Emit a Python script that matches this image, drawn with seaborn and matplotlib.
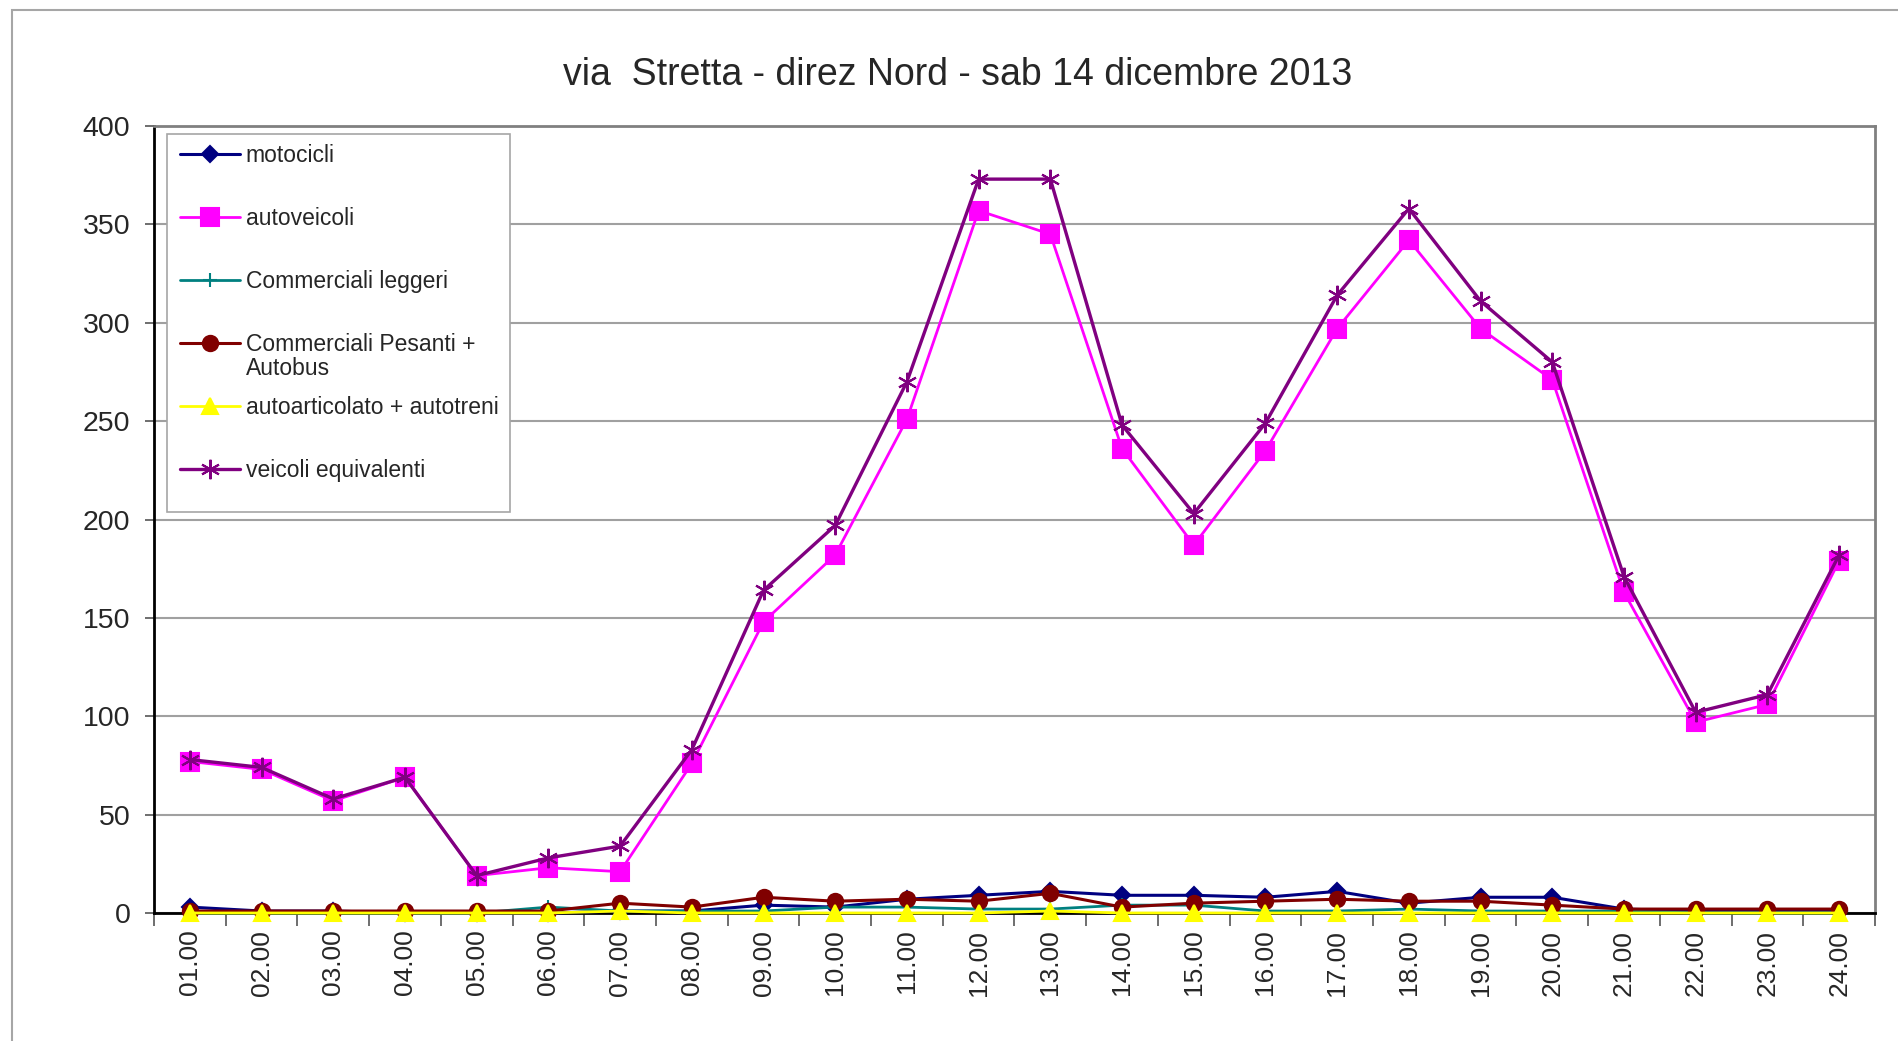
import matplotlib
matplotlib.use("Agg")
import matplotlib.pyplot as plt
from matplotlib.patches import Rectangle
from matplotlib.text import Annotation
import seaborn as sns

# dati (conteggi orari)
ore = ["01.00", "02.00", "03.00", "04.00", "05.00", "06.00", "07.00", "08.00",
       "09.00", "10.00", "11.00", "12.00", "13.00", "14.00", "15.00", "16.00",
       "17.00", "18.00", "19.00", "20.00", "21.00", "22.00", "23.00", "24.00"]

motocicli = [3, 1, 1, 0, 0, 0, 1, 1, 4, 3, 7, 9, 11, 9, 9, 8, 11, 5, 8, 8, 2, 1, 1, 1]
autoveicoli = [77, 73, 57, 69, 19, 23, 21, 76, 148, 182, 251, 357, 345, 236, 187,
               235, 297, 342, 297, 271, 163, 97, 106, 179]
comm_leggeri = [0, 0, 0, 0, 0, 3, 1, 1, 1, 3, 3, 2, 2, 4, 4, 1, 1, 2, 1, 1, 1, 0, 0, 0]
comm_pesanti = [1, 1, 1, 1, 1, 1, 5, 3, 8, 6, 7, 6, 10, 3, 5, 6, 7, 6, 6, 4, 2, 2, 2, 2]
autoarticolati = [0, 0, 0, 0, 0, 0, 1, 0, 0, 0, 0, 0, 1, 0, 0, 0, 0, 0, 0, 0, 0, 0, 0, 0]
veicoli_equiv = [78, 74, 58, 69, 19, 28, 34, 83, 164, 197, 270, 373, 373, 248, 203,
                 249, 314, 358, 311, 280, 171, 102, 111, 182]

sns.set_style("white")
plt.rcParams['font.family'] = ['Liberation Sans', 'DejaVu Sans']

W, H = 1899, 1041
fig = plt.figure(figsize=(W / 100, H / 100), dpi=100)
ax = fig.add_axes([154 / W, 1 - 913 / H, (1875 - 154) / W, (913 - 126) / H])

# cornice esterna del grafico
fig.add_artist(Rectangle((12 / W, -0.1), 1.2, 1 - 10 / H + 0.1, transform=fig.transFigure,
                         fill=False, edgecolor='#a6a6a6', lw=1.5))

x = list(range(len(ore)))
serie = [
    ("motocicli", motocicli, "#000080", "D", 8, 2.2),
    ("autoveicoli", autoveicoli, "#ff00ff", "s", 13, 2.0),
    ("Commerciali leggeri", comm_leggeri, "#008080", "+", 10, 2.0),
    ("Commerciali Pesanti +", comm_pesanti, "#800000", "o", 11, 2.2),
    ("autoarticolato + autotreni", autoarticolati, "#ffff00", "^", 12, 2.0),
    ("veicoli equivalenti", veicoli_equiv, "#800080", (6, 2, 0), 14, 2.4),
]
for nome, vals, col, mk, ms, lw in serie:
    sns.lineplot(x=x, y=vals, ax=ax, color=col, marker=mk, markersize=ms, lw=lw,
                 markeredgecolor=col, markerfacecolor=col, markeredgewidth=1.5,
                 label=nome, clip_on=False, zorder=3)

ax.set_xlim(-0.5, len(ore) - 0.5)
ax.set_ylim(0, 400)
ax.set_yticks(range(0, 401, 50))
ax.set_xticks(x)
ax.set_xticklabels(ore, rotation=90)
ax.set_xticks([i - 0.5 for i in range(len(ore) + 1)], minor=True)
ax.tick_params(axis='x', which='major', length=0, pad=12, labelsize=19)
ax.tick_params(axis='x', which='minor', length=9, width=1.2, color='#555555',
               direction='out', bottom=True)
ax.tick_params(axis='y', length=6.5, width=1.2, direction='out', left=True,
               labelsize=20.5, pad=10.5, color='#555555')
ax.yaxis.grid(True, color='#a0a0a0', lw=1.5)
ax.set_axisbelow(True)

for s in ['left', 'bottom']:
    ax.spines[s].set_color('black')
    ax.spines[s].set_linewidth(2)
for s in ['top', 'right']:
    ax.spines[s].set_color('#808080')
    ax.spines[s].set_linewidth(2)

ax.set_xlabel("")
ax.set_ylabel("")

# riquadro legenda (stile Excel, con spazio in basso)
box = Rectangle((167 / W, 1 - 512 / H), (510 - 167) / W, (512 - 134) / H,
                transform=fig.transFigure, facecolor='white', edgecolor='#a6a6a6',
                lw=1.2, zorder=4)
fig.add_artist(box)

leg = ax.legend(loc='upper left', bbox_to_anchor=((170 - 154) / 1721, 1 - 8 / 787),
                borderaxespad=0, fontsize=16.5, labelspacing=1.74, handlelength=2.6,
                handletextpad=0.25, frameon=False, borderpad=0.45)
ax.legend_ = None
leg.set_zorder(5)
fig.add_artist(leg)

# seconda riga dell'etichetta "Commerciali Pesanti + / Autobus"
riga1 = leg.get_texts()[3]
ann = Annotation("Autobus", xy=(0, 0), xycoords=riga1, xytext=(0, -1),
                 textcoords='offset points', ha='left', va='top', fontsize=16.5,
                 color=riga1.get_color(), annotation_clip=False)
ann.set_zorder(6)
fig.add_artist(ann)

fig.text(958 / W, 1 - 75 / H, "via  Stretta - direz Nord - sab 14 dicembre 2013",
         ha='center', va='center', fontsize=27)

fig.savefig("out.png", dpi=100)
